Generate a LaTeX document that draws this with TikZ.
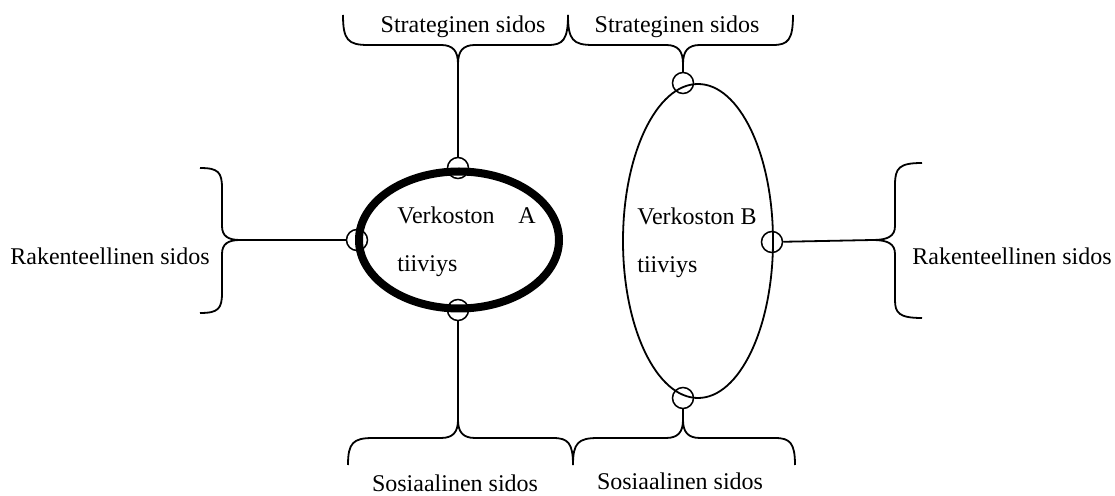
\documentclass[tikz,border=0pt]{standalone}
\usepackage{fontspec}
\setmainfont{Liberation Serif}
\usetikzlibrary{shapes.geometric}
\begin{document}
\begin{tikzpicture}[x=0.5pt,y=-0.5pt,
  lbl/.style={inner sep=0pt,font=\fontsize{12}{14}\selectfont},
  ring/.style={draw,circle,minimum size=10.5pt,inner sep=0pt,line width=0.75pt},
  bracestyle/.style={draw,line width=0.9pt},
  link/.style={draw,line width=0.9pt}]
\useasboundingbox[fill=white] (0,0) rectangle (1115,496);
% ellipses
\node[draw,ellipse,line width=4pt,minimum width=100pt,minimum height=68.5pt,inner sep=0pt] (eA) at (459,240) {};
\node[draw,ellipse,line width=0.9pt,minimum width=75pt,minimum height=157pt,inner sep=0pt] (eB) at (698,241) {};
% rings
\node[ring] (aT) at (458,168) {};
\node[ring] (aL) at (357,240) {};
\node[ring] (aB) at (458,310) {};
\node[ring] (bT) at (683,83) {};
\node[ring] (bR) at (772,242) {};
\node[ring] (bB) at (683,398) {};
% brace tips
\coordinate (t1) at (458,64);
\coordinate (t2) at (683,64);
\coordinate (b1) at (458,420);
\coordinate (b2) at (683,420);
\coordinate (l1) at (240,240);
\coordinate (r1) at (873,240);
% braces top
\draw[bracestyle] (343,15) .. controls (343,40) and (348,45) .. (368,45) -- (441,45) .. controls (453,45) and (458,51) .. (458,64) .. controls (458,51) and (463,45) .. (475,45) -- (548,45) .. controls (563,45) and (568,40) .. (568,15);
\draw[bracestyle] (568,15) .. controls (568,40) and (573,45) .. (593,45) -- (666,45) .. controls (678,45) and (683,51) .. (683,64) .. controls (683,51) and (688,45) .. (700,45) -- (773,45) .. controls (788,45) and (793,40) .. (793,15);
% braces bottom
\draw[bracestyle] (348,465) .. controls (348,443) and (353,438) .. (373,438) -- (441,438) .. controls (453,438) and (458,432) .. (458,420) .. controls (458,432) and (463,438) .. (475,438) -- (553,438) .. controls (568,438) and (573,443) .. (573,465);
\draw[bracestyle] (573,465) .. controls (573,443) and (578,438) .. (598,438) -- (666,438) .. controls (678,438) and (683,432) .. (683,420) .. controls (683,432) and (688,438) .. (700,438) -- (775,438) .. controls (790,438) and (795,443) .. (795,465);
% side braces
\draw[bracestyle] (200,168) .. controls (218,168) and (222,172) .. (222,188) -- (222,226) .. controls (222,236) and (228,240) .. (240,240) .. controls (228,240) and (222,244) .. (222,254) -- (222,293) .. controls (222,309) and (218,313) .. (200,313);
\draw[bracestyle] (922,163) .. controls (899,163) and (895,168) .. (895,185) -- (895,226) .. controls (895,236) and (888,240) .. (873,240) .. controls (888,240) and (895,244) .. (895,254) -- (895,300) .. controls (895,313) and (899,318) .. (922,318);
% connectors
\draw[link] (aT) -- (t1);
\draw[link] (aB) -- (b1);
\draw[link] (aL) -- (l1);
\draw[link] (bT) -- (t2);
\draw[link] (bB) -- (b2);
\draw[link] (bR) -- (r1);
% labels
\node[lbl,anchor=base] (s1) at (463,33) {Strateginen sidos};
\node[lbl,anchor=base] (s2) at (677,33) {Strateginen sidos};
\node[lbl,anchor=base] (so1) at (455,492) {Sosiaalinen sidos};
\node[lbl,anchor=base] (so2) at (680,490) {Sosiaalinen sidos};
\node[lbl,anchor=base west] (rk1) at (10,265) {Rakenteellinen sidos};
\node[lbl,anchor=base west] (rk2) at (912,265) {Rakenteellinen sidos};
\node[lbl,anchor=base west] (vA) at (397,224) {Verkoston};
\node[lbl,anchor=base east] (vA2) at (536,224) {A};
\node[lbl,anchor=base west] (tA) at (397,272) {tiiviys};
\node[lbl,anchor=base west] (vB) at (637,225) {Verkoston B};
\node[lbl,anchor=base west] (tB) at (637,273) {tiiviys};
\end{tikzpicture}
\end{document}
